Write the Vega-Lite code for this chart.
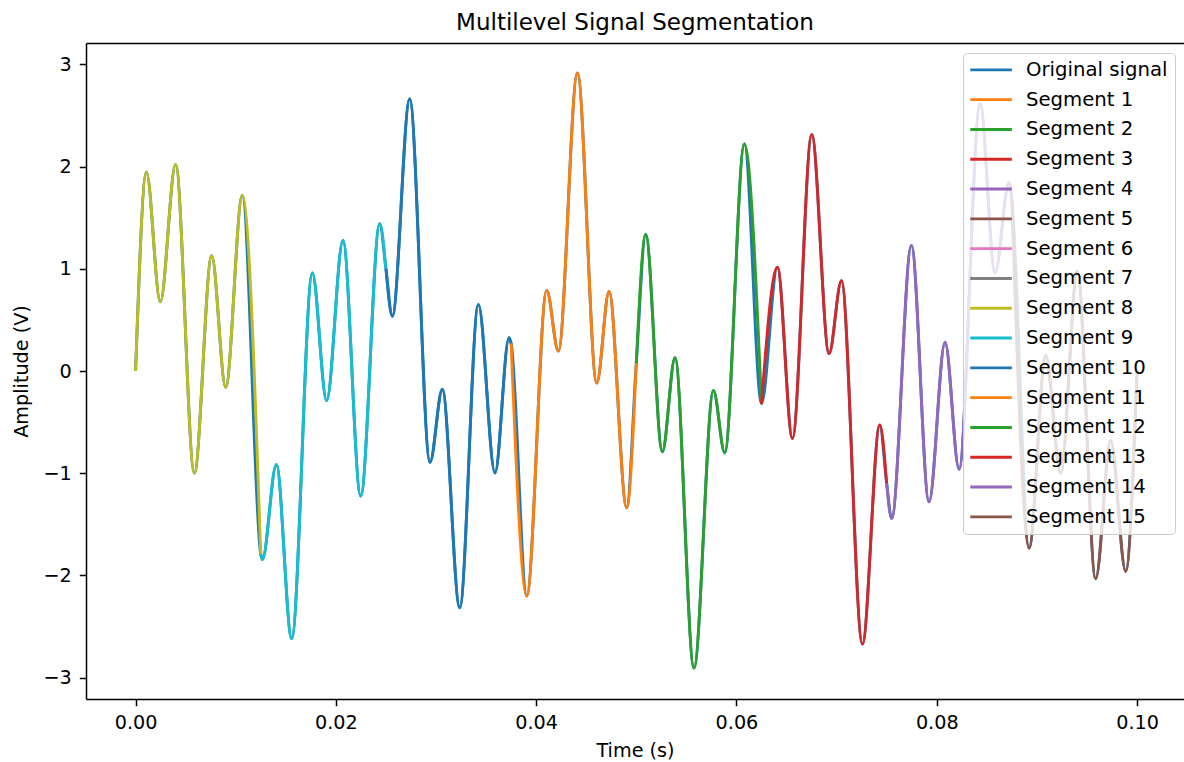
{
  "$schema": "https://vega.github.io/schema/vega-lite/v6.json",
  "autosize": {"type": "none"},
  "padding": {"left": 86, "top": 43, "right": 0, "bottom": 63},
  "width": 1098,
  "height": 656,
  "background": "white",
  "config": {
    "font": "DejaVu Sans",
    "view": {"stroke": null},
    "axis": {"grid": false, "domainColor": "black", "domainWidth": 1.5, "tickColor": "black", "tickWidth": 1.5, "tickSize": 6.7, "labelFont": "DejaVu Sans", "labelFontSize": 19.2, "labelColor": "black", "titleFont": "DejaVu Sans", "titleFontSize": 19.2, "titleFontWeight": "normal", "titleColor": "black"}
  },
  "title": {"text": "Multilevel Signal Segmentation", "font": "DejaVu Sans", "fontSize": 23, "fontWeight": "normal", "color": "black", "anchor": "middle", "baseline": "bottom", "offset": -15},
  "datasets": {
    "signal": [
      {"t": 0, "v": 0, "s": "Original signal"},
      {"t": 0.00108, "v": 1.944, "s": "Original signal"},
      {"t": 0.00247, "v": 0.676, "s": "Original signal"},
      {"t": 0.004, "v": 2.02, "s": "Original signal"},
      {"t": 0.00587, "v": -0.998, "s": "Original signal"},
      {"t": 0.0076, "v": 1.127, "s": "Original signal"},
      {"t": 0.009, "v": -0.16, "s": "Original signal"},
      {"t": 0.01066, "v": 1.718, "s": "Original signal"},
      {"t": 0.0125, "v": -1.79, "s": "Original signal"},
      {"t": 0.01266, "v": -1.845, "s": "Original signal"},
      {"t": 0.01406, "v": -0.916, "s": "Original signal"},
      {"t": 0.01559, "v": -2.617, "s": "Original signal"},
      {"t": 0.01765, "v": 0.959, "s": "Original signal"},
      {"t": 0.01908, "v": -0.29, "s": "Original signal"},
      {"t": 0.02071, "v": 1.278, "s": "Original signal"},
      {"t": 0.02248, "v": -1.223, "s": "Original signal"},
      {"t": 0.02438, "v": 1.44, "s": "Original signal"},
      {"t": 0.025, "v": 1.0, "s": "Original signal"},
      {"t": 0.02564, "v": 0.536, "s": "Original signal"},
      {"t": 0.02737, "v": 2.66, "s": "Original signal"},
      {"t": 0.0294, "v": -0.893, "s": "Original signal"},
      {"t": 0.03063, "v": -0.178, "s": "Original signal"},
      {"t": 0.03237, "v": -2.316, "s": "Original signal"},
      {"t": 0.03423, "v": 0.65, "s": "Original signal"},
      {"t": 0.03589, "v": -0.998, "s": "Original signal"},
      {"t": 0.03729, "v": 0.326, "s": "Original signal"},
      {"t": 0.0375, "v": 0.27, "s": "Original signal"},
      {"t": 0.03906, "v": -2.2, "s": "Original signal"},
      {"t": 0.04105, "v": 0.789, "s": "Original signal"},
      {"t": 0.04222, "v": 0.194, "s": "Original signal"},
      {"t": 0.04412, "v": 2.915, "s": "Original signal"},
      {"t": 0.04605, "v": -0.118, "s": "Original signal"},
      {"t": 0.04728, "v": 0.778, "s": "Original signal"},
      {"t": 0.04904, "v": -1.337, "s": "Original signal"},
      {"t": 0.05, "v": 0.08, "s": "Original signal"},
      {"t": 0.05094, "v": 1.335, "s": "Original signal"},
      {"t": 0.0526, "v": -0.79, "s": "Original signal"},
      {"t": 0.05387, "v": 0.13, "s": "Original signal"},
      {"t": 0.05576, "v": -2.906, "s": "Original signal"},
      {"t": 0.0577, "v": -0.19, "s": "Original signal"},
      {"t": 0.05883, "v": -0.8, "s": "Original signal"},
      {"t": 0.06079, "v": 2.22, "s": "Original signal"},
      {"t": 0.0625, "v": -0.32, "s": "Original signal"},
      {"t": 0.06409, "v": 1.015, "s": "Original signal"},
      {"t": 0.06559, "v": -0.66, "s": "Original signal"},
      {"t": 0.06752, "v": 2.313, "s": "Original signal"},
      {"t": 0.06925, "v": 0.17, "s": "Original signal"},
      {"t": 0.07048, "v": 0.883, "s": "Original signal"},
      {"t": 0.07258, "v": -2.67, "s": "Original signal"},
      {"t": 0.07431, "v": -0.528, "s": "Original signal"},
      {"t": 0.075, "v": -1.1, "s": "Original signal"},
      {"t": 0.0755, "v": -1.443, "s": "Original signal"},
      {"t": 0.07747, "v": 1.229, "s": "Original signal"},
      {"t": 0.07923, "v": -1.28, "s": "Original signal"},
      {"t": 0.08083, "v": 0.281, "s": "Original signal"},
      {"t": 0.08223, "v": -0.961, "s": "Original signal"},
      {"t": 0.08433, "v": 2.614, "s": "Original signal"},
      {"t": 0.08582, "v": 0.959, "s": "Original signal"},
      {"t": 0.08722, "v": 1.842, "s": "Original signal"},
      {"t": 0.0875, "v": 1.67, "s": "Original signal"},
      {"t": 0.08922, "v": -1.732, "s": "Original signal"},
      {"t": 0.09088, "v": 0.149, "s": "Original signal"},
      {"t": 0.09238, "v": -0.998, "s": "Original signal"},
      {"t": 0.09405, "v": 0.977, "s": "Original signal"},
      {"t": 0.09587, "v": -2.033, "s": "Original signal"},
      {"t": 0.09737, "v": -0.679, "s": "Original signal"},
      {"t": 0.09887, "v": -1.959, "s": "Original signal"},
      {"t": 0.1, "v": 0.0, "s": "Original signal"}
    ],
    "segments": [
      {"t": 0, "v": 0, "s": "Segment 8"},
      {"t": 0.00108, "v": 1.944, "s": "Segment 8"},
      {"t": 0.00247, "v": 0.676, "s": "Segment 8"},
      {"t": 0.004, "v": 2.02, "s": "Segment 8"},
      {"t": 0.00587, "v": -0.998, "s": "Segment 8"},
      {"t": 0.0076, "v": 1.127, "s": "Segment 8"},
      {"t": 0.009, "v": -0.16, "s": "Segment 8"},
      {"t": 0.01066, "v": 1.718, "s": "Segment 8"},
      {"t": 0.0125, "v": -1.79, "s": "Segment 8"},
      {"t": 0.0125, "v": -1.79, "s": "Segment 9"},
      {"t": 0.01266, "v": -1.845, "s": "Segment 9"},
      {"t": 0.01406, "v": -0.916, "s": "Segment 9"},
      {"t": 0.01559, "v": -2.617, "s": "Segment 9"},
      {"t": 0.01765, "v": 0.959, "s": "Segment 9"},
      {"t": 0.01908, "v": -0.29, "s": "Segment 9"},
      {"t": 0.02071, "v": 1.278, "s": "Segment 9"},
      {"t": 0.02248, "v": -1.223, "s": "Segment 9"},
      {"t": 0.02438, "v": 1.44, "s": "Segment 9"},
      {"t": 0.025, "v": 1.0, "s": "Segment 9"},
      {"t": 0.025, "v": 1.0, "s": "Segment 10"},
      {"t": 0.02564, "v": 0.536, "s": "Segment 10"},
      {"t": 0.02737, "v": 2.66, "s": "Segment 10"},
      {"t": 0.0294, "v": -0.893, "s": "Segment 10"},
      {"t": 0.03063, "v": -0.178, "s": "Segment 10"},
      {"t": 0.03237, "v": -2.316, "s": "Segment 10"},
      {"t": 0.03423, "v": 0.65, "s": "Segment 10"},
      {"t": 0.03589, "v": -0.998, "s": "Segment 10"},
      {"t": 0.03729, "v": 0.326, "s": "Segment 10"},
      {"t": 0.0375, "v": 0.27, "s": "Segment 10"},
      {"t": 0.0375, "v": 0.27, "s": "Segment 11"},
      {"t": 0.03906, "v": -2.2, "s": "Segment 11"},
      {"t": 0.04105, "v": 0.789, "s": "Segment 11"},
      {"t": 0.04222, "v": 0.194, "s": "Segment 11"},
      {"t": 0.04412, "v": 2.915, "s": "Segment 11"},
      {"t": 0.04605, "v": -0.118, "s": "Segment 11"},
      {"t": 0.04728, "v": 0.778, "s": "Segment 11"},
      {"t": 0.04904, "v": -1.337, "s": "Segment 11"},
      {"t": 0.05, "v": 0.08, "s": "Segment 11"},
      {"t": 0.05, "v": 0.08, "s": "Segment 12"},
      {"t": 0.05094, "v": 1.335, "s": "Segment 12"},
      {"t": 0.0526, "v": -0.79, "s": "Segment 12"},
      {"t": 0.05387, "v": 0.13, "s": "Segment 12"},
      {"t": 0.05576, "v": -2.906, "s": "Segment 12"},
      {"t": 0.0577, "v": -0.19, "s": "Segment 12"},
      {"t": 0.05883, "v": -0.8, "s": "Segment 12"},
      {"t": 0.06079, "v": 2.22, "s": "Segment 12"},
      {"t": 0.0625, "v": -0.32, "s": "Segment 12"},
      {"t": 0.0625, "v": -0.32, "s": "Segment 13"},
      {"t": 0.06409, "v": 1.015, "s": "Segment 13"},
      {"t": 0.06559, "v": -0.66, "s": "Segment 13"},
      {"t": 0.06752, "v": 2.313, "s": "Segment 13"},
      {"t": 0.06925, "v": 0.17, "s": "Segment 13"},
      {"t": 0.07048, "v": 0.883, "s": "Segment 13"},
      {"t": 0.07258, "v": -2.67, "s": "Segment 13"},
      {"t": 0.07431, "v": -0.528, "s": "Segment 13"},
      {"t": 0.075, "v": -1.1, "s": "Segment 13"},
      {"t": 0.075, "v": -1.1, "s": "Segment 14"},
      {"t": 0.0755, "v": -1.443, "s": "Segment 14"},
      {"t": 0.07747, "v": 1.229, "s": "Segment 14"},
      {"t": 0.07923, "v": -1.28, "s": "Segment 14"},
      {"t": 0.08083, "v": 0.281, "s": "Segment 14"},
      {"t": 0.08223, "v": -0.961, "s": "Segment 14"},
      {"t": 0.08433, "v": 2.614, "s": "Segment 14"},
      {"t": 0.08582, "v": 0.959, "s": "Segment 14"},
      {"t": 0.08722, "v": 1.842, "s": "Segment 14"},
      {"t": 0.0875, "v": 1.67, "s": "Segment 14"},
      {"t": 0.0875, "v": 1.67, "s": "Segment 15"},
      {"t": 0.08922, "v": -1.732, "s": "Segment 15"},
      {"t": 0.09088, "v": 0.149, "s": "Segment 15"},
      {"t": 0.09238, "v": -0.998, "s": "Segment 15"},
      {"t": 0.09405, "v": 0.977, "s": "Segment 15"},
      {"t": 0.09587, "v": -2.033, "s": "Segment 15"},
      {"t": 0.09737, "v": -0.679, "s": "Segment 15"},
      {"t": 0.09887, "v": -1.959, "s": "Segment 15"},
      {"t": 0.1, "v": 0.0, "s": "Segment 15"}
    ]
  },
  "resolve": {"axis": {"x": "independent"}},
  "layer": [
    {
      "data": {"name": "signal"},
      "mark": {"type": "line", "interpolate": "monotone", "strokeWidth": 2.9, "strokeJoin": "round"},
      "encoding": {
        "x": {"field": "t", "type": "quantitative", "scale": {"domain": [-0.00495, 0.10469], "nice": false, "zero": false},
              "axis": {"orient": "bottom", "values": [0, 0.02, 0.04, 0.06, 0.08, 0.1], "format": ".2f", "title": "Time (s)", "labelPadding": 8, "titlePadding": 9}},
        "y": {"field": "v", "type": "quantitative", "scale": {"domain": [-3.208, 3.208], "nice": false, "zero": false},
              "axis": {"values": [-3, -2, -1, 0, 1, 2, 3], "format": "d", "labelExpr": "replace(datum.label, '-', '−')", "title": "Amplitude (V)", "labelPadding": 8, "titlePadding": 12}},
        "color": {"field": "s", "type": "nominal",
          "scale": {"domain": ["Original signal", "Segment 1", "Segment 2", "Segment 3", "Segment 4", "Segment 5", "Segment 6", "Segment 7", "Segment 8", "Segment 9", "Segment 10", "Segment 11", "Segment 12", "Segment 13", "Segment 14", "Segment 15"],
                    "range": ["#1f77b4", "#ff7f0e", "#2ca02c", "#d62728", "#9467bd", "#8c564b", "#e377c2", "#7f7f7f", "#bcbd22", "#17becf", "#1f77b4", "#ff7f0e", "#2ca02c", "#d62728", "#9467bd", "#8c564b"]},
          "legend": {"orient": "none", "legendX": 877, "legendY": 10, "direction": "vertical", "columns": 1, "title": null,
                     "symbolType": "M-4,0H4", "symbolSize": 108, "symbolStrokeWidth": 2.9, "symbolOffset": 11.2,
                     "labelOffset": 25, "labelFontSize": 19.7, "labelFont": "DejaVu Sans", "labelColor": "black", "labelLimit": 400,
                     "rowPadding": 8.8, "padding": 7, "fillColor": "rgba(255,255,255,0.8)", "strokeColor": "#cccccc", "cornerRadius": 4}}
      }
    },
    {
      "data": {"name": "segments"},
      "mark": {"type": "line", "interpolate": "monotone", "strokeWidth": 2.9, "strokeJoin": "round"},
      "encoding": {
        "x": {"field": "t", "type": "quantitative", "axis": {"orient": "top", "labels": false, "ticks": false, "title": null, "domain": true, "minExtent": 0, "maxExtent": 0}},
        "y": {"field": "v", "type": "quantitative"},
        "color": {"field": "s", "type": "nominal"}
      }
    }
  ]
}
